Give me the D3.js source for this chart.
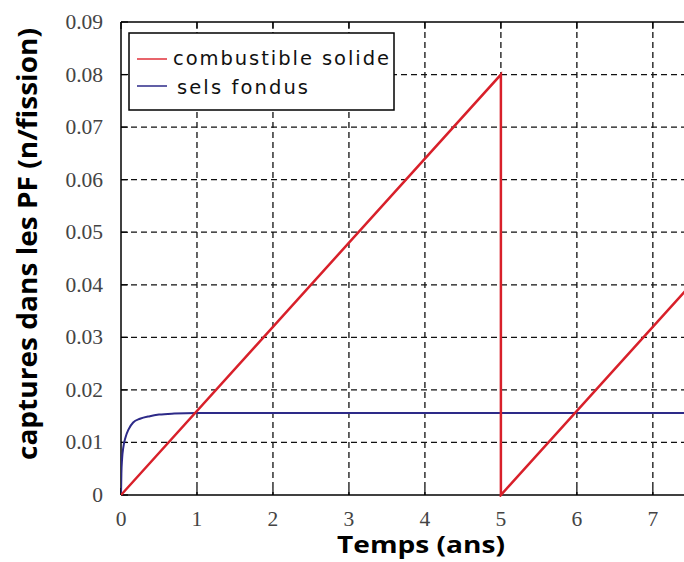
<!DOCTYPE html>
<html><head><meta charset="utf-8">
<script src="https://cdn.jsdelivr.net/npm/d3@7"></script>
<style>html,body{margin:0;padding:0;background:#fff;overflow:hidden}</style>
</head><body>
<svg id="c" width="684" height="562"></svg>
<script>
const xTicks = [0,1,2,3,4,5,6,7];
const yTicks = [0,0.01,0.02,0.03,0.04,0.05,0.06,0.07,0.08,0.09];
const yTickLabels = ["0","0.01","0.02","0.03","0.04","0.05","0.06","0.07","0.08","0.09"];
const seriesNames = ["combustible solide","sels fondus"];
const solideX = [0,5,5,8];
const solideY = [0,0.08,0,0.048];
const selsX = [0,0.005,0.015,0.03,0.06,0.1,0.16,0.25,0.38,0.5,0.7,1,8];
const selsY = [0,0.004,0.007,0.009,0.011,0.0125,0.0138,0.0145,0.015,0.0153,0.0155,0.0156,0.0156];

const svg = d3.select("#c");
const L=121, T=22, B=495, R=684;
const x = d3.scaleLinear().domain([0,7.41]).range([L,R]);
const y = d3.scaleLinear().domain([0,0.09]).range([B,T]);

svg.append("defs").append("clipPath").attr("id","clip")
  .append("rect").attr("x",L).attr("y",T-2).attr("width",R-L+2).attr("height",B-T+4);

// grid
const g = svg.append("g");
g.selectAll(".gx").data(xTicks.filter(d=>d>0)).enter().append("line")
  .attr("x1",d=>x(d)).attr("x2",d=>x(d)).attr("y1",T).attr("y2",B)
  .attr("stroke","#111").attr("stroke-width",1.3).attr("stroke-dasharray","6,4");
g.selectAll(".gy").data(yTicks.filter(d=>d>0 && d<0.09)).enter().append("line")
  .attr("x1",L).attr("x2",R).attr("y1",d=>y(d)).attr("y2",d=>y(d))
  .attr("stroke","#111").attr("stroke-width",1.3).attr("stroke-dasharray","6,4");

// frame
svg.append("line").attr("x1",L).attr("x2",R).attr("y1",T).attr("y2",T).attr("stroke","#000").attr("stroke-width",1.5);
svg.append("line").attr("x1",L).attr("x2",R).attr("y1",B).attr("y2",B).attr("stroke","#000").attr("stroke-width",1.5);
svg.append("line").attr("x1",L).attr("x2",L).attr("y1",T).attr("y2",B).attr("stroke","#000").attr("stroke-width",1.5);

// ticks inside
yTicks.forEach(d=>{
  svg.append("line").attr("x1",L).attr("x2",L+7).attr("y1",y(d)).attr("y2",y(d)).attr("stroke","#000").attr("stroke-width",1.2);
});
xTicks.forEach(d=>{
  svg.append("line").attr("x1",x(d)).attr("x2",x(d)).attr("y1",B).attr("y2",B-7).attr("stroke","#000").attr("stroke-width",1.2);
  svg.append("line").attr("x1",x(d)).attr("x2",x(d)).attr("y1",T).attr("y2",T+7).attr("stroke","#000").attr("stroke-width",1.2);
});

// tick labels
svg.selectAll(".yl").data(yTicks).enter().append("text")
  .attr("x",103).attr("y",d=>y(d)+7).attr("text-anchor","end")
  .attr("font-family","Liberation Serif, serif").attr("font-size",21.5).attr("fill","#444")
  .text((d,i)=>yTickLabels[i]);
svg.selectAll(".xl").data(xTicks).enter().append("text")
  .attr("x",d=>x(d)).attr("y",526).attr("text-anchor","middle")
  .attr("font-family","Liberation Serif, serif").attr("font-size",21.5).attr("fill","#444")
  .text(d=>d);

// lines
const line = d3.line().x(d=>x(d[0])).y(d=>y(d[1]));
const pc = svg.append("g").attr("clip-path","url(#clip)");
pc.append("path").datum(selsX.map((v,i)=>[v,selsY[i]]))
  .attr("d",line.curve(d3.curveMonotoneX)).attr("fill","none").attr("stroke","#2d2a88").attr("stroke-width",2);
pc.append("path").datum(solideX.map((v,i)=>[v,solideY[i]]))
  .attr("d",d3.line().x(d=>x(d[0])).y(d=>y(d[1]))).attr("fill","none").attr("stroke","#d8202a").attr("stroke-width",2.5);

// legend
const lg = svg.append("g");
lg.append("rect").attr("x",129).attr("y",33).attr("width",265).attr("height",77)
  .attr("fill","#fff").attr("stroke","#000").attr("stroke-width",1.5);
const colors = ["#e0303a","#2d2a88"];
const legTextLen = [216,131];
const legTextX = [173,177];
seriesNames.forEach((n,i)=>{
  const yy = 59 + i*27;
  lg.append("line").attr("x1",137).attr("x2",167).attr("y1",yy).attr("y2",yy).attr("stroke",colors[i]).attr("stroke-width",1.5);
  lg.append("text").attr("x",legTextX[i]).attr("y",65 + i*29).attr("font-family","DejaVu Sans, sans-serif")
    .attr("font-size",19.5).attr("fill","#111")
    .attr("textLength",legTextLen[i]).attr("lengthAdjust","spacing").text(n);
});

// axis titles
svg.append("text").attr("x",337).attr("y",553)
  .attr("font-family","Open Sans, sans-serif").attr("font-weight","bold").attr("font-size",22.5).attr("fill","#000")
  .attr("textLength",168).attr("lengthAdjust","spacingAndGlyphs")
  .text("Temps (ans)");
svg.append("text").attr("transform","translate(37,460) rotate(-90)")
  .attr("font-family","Open Sans, sans-serif").attr("font-weight","bold").attr("font-size",26.5).attr("fill","#000")
  .attr("textLength",432).attr("lengthAdjust","spacingAndGlyphs")
  .text("captures dans les PF (n/fission)");
</script>
</body></html>
